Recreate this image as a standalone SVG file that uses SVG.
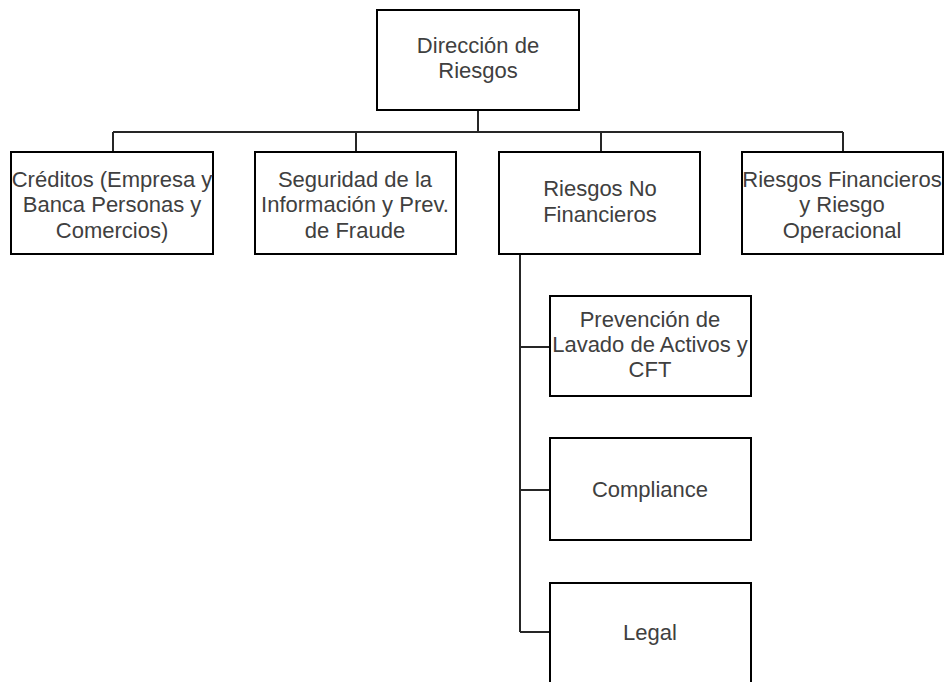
<svg xmlns="http://www.w3.org/2000/svg" width="944" height="682" viewBox="0 0 944 682">
<style>
.box{fill:#fff;stroke:#000;stroke-width:2}
.ln{fill:none;stroke:#262626;stroke-width:2}
text{font-family:"Liberation Sans",Arial,sans-serif;font-size:22px;fill:#404040;text-anchor:middle}
</style>
<rect width="944" height="682" fill="#fff"/>
<g id="connectors">
<path class="ln" d="M478 110V132M113 132H843M113 132V152M356 132V152M601 132V152M843 132V152"/>
<path class="ln" d="M520 254V632M520 347H550M520 490H550M520 632H550"/>
</g>
<g id="n-direccion"><rect class="box" x="377" y="10" width="202" height="100"/><text x="478" y="53">Dirección de</text><text x="478" y="78">Riesgos</text></g>
<g id="n-creditos"><rect class="box" x="11" y="152" width="202" height="102"/><text x="112" y="187">Créditos (Empresa y</text><text x="112" y="212">Banca Personas y</text><text x="112" y="238">Comercios)</text></g>
<g id="n-seguridad"><rect class="box" x="255" y="152" width="201" height="102"/><text x="355" y="187">Seguridad de la</text><text x="355" y="212">Información y Prev.</text><text x="355" y="238">de Fraude</text></g>
<g id="n-rnf"><rect class="box" x="499" y="152" width="201" height="102"/><text x="600" y="196">Riesgos No</text><text x="600" y="222">Financieros</text></g>
<g id="n-rf"><rect class="box" x="742" y="152" width="201" height="102"/><text x="842" y="187">Riesgos Financieros</text><text x="842" y="212">y Riesgo</text><text x="842" y="238">Operacional</text></g>
<g id="n-plaft"><rect class="box" x="550" y="296" width="201" height="100"/><text x="650" y="327">Prevención de</text><text x="650" y="352">Lavado de Activos y</text><text x="650" y="377">CFT</text></g>
<g id="n-compliance"><rect class="box" x="550" y="438" width="201" height="102"/><text x="650" y="497">Compliance</text></g>
<g id="n-legal"><rect class="box" x="550" y="583" width="201" height="110"/><text x="650" y="640">Legal</text></g>
</svg>
